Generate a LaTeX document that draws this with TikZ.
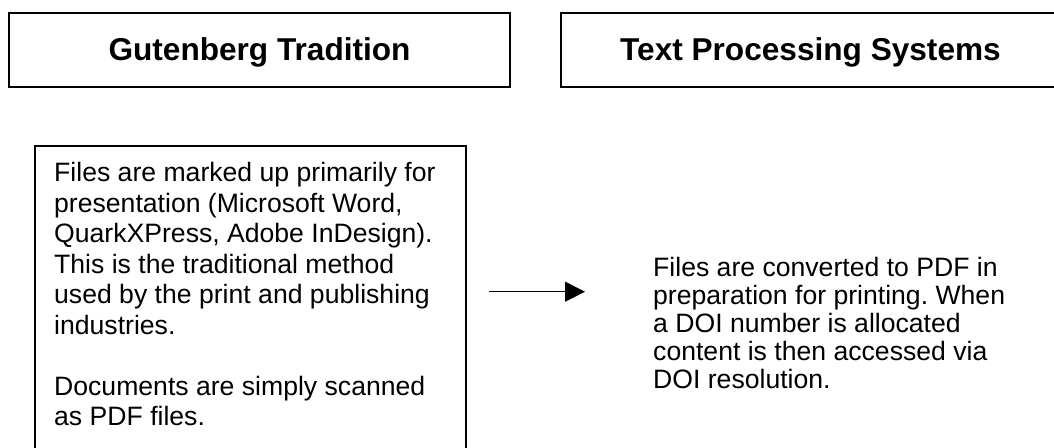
\documentclass[tikz,border=0pt]{standalone}
\usepackage{fontspec}
\setmainfont{Liberation Sans}
\usetikzlibrary{arrows.meta}
\frenchspacing

\tikzset{
  framebox/.style={draw=black, line width=1.6pt, inner sep=0pt},
  headtext/.style={font=\fontsize{31.6}{36}\selectfont\bfseries, inner sep=0pt, anchor=base},
  bodytext/.style={font=\fontsize{26.6}{30.5}\selectfont, inner sep=0pt, align=left, anchor=base west},
  sidetext/.style={font=\fontsize{26.6}{28}\selectfont, inner sep=0pt, align=left, anchor=base west},
  flow/.style={draw=black, line width=1.1pt, -{Triangle[length=20pt, width=20pt]}}
}

\begin{document}
\begin{tikzpicture}[x=1pt, y=-1pt]
  \useasboundingbox (0,0) rectangle (1054,447);
  \clip (0,0) rectangle (1054,447);

  % column headings
  \node[framebox, minimum width=501pt, minimum height=74pt] (gutbox) at (259.5,50) {};
  \node[headtext] (gut) at (259.5,60) {Gutenberg Tradition};
  \node[framebox, minimum width=499pt, minimum height=74pt] (tpsbox) at (810.5,50) {};
  \node[headtext] (tps) at (810.5,60) {Text Processing Systems};

  % left description, frame runs past the lower edge
  \node[framebox, anchor=north west, minimum width=431pt, minimum height=360pt] (lowbox) at (34,145) {};
  % base anchor sits on the last line
  \node[bodytext] (lefttext) at (54,425.7) {Files are marked up primarily for\\
    presentation (Microsoft Word,\\
    QuarkXPress, Adobe InDesign).\\
    This is the traditional method\\
    used by the print and publishing\\
    industries.\\[30.5pt]
    Documents are simply scanned\\
    as PDF files.};

  % right description
  \node[sidetext] (righttext) at (653,388.7) {Files are converted to PDF in\\
    preparation for printing. When\\
    a DOI number is allocated\\
    content is then accessed via\\
    DOI resolution.};

  % arrow between the two
  \coordinate (arrfrom) at (489,291.7);
  \coordinate (arrto) at (585,291.7);
  \draw[flow] (arrfrom) -- (arrto);
\end{tikzpicture}
\end{document}
